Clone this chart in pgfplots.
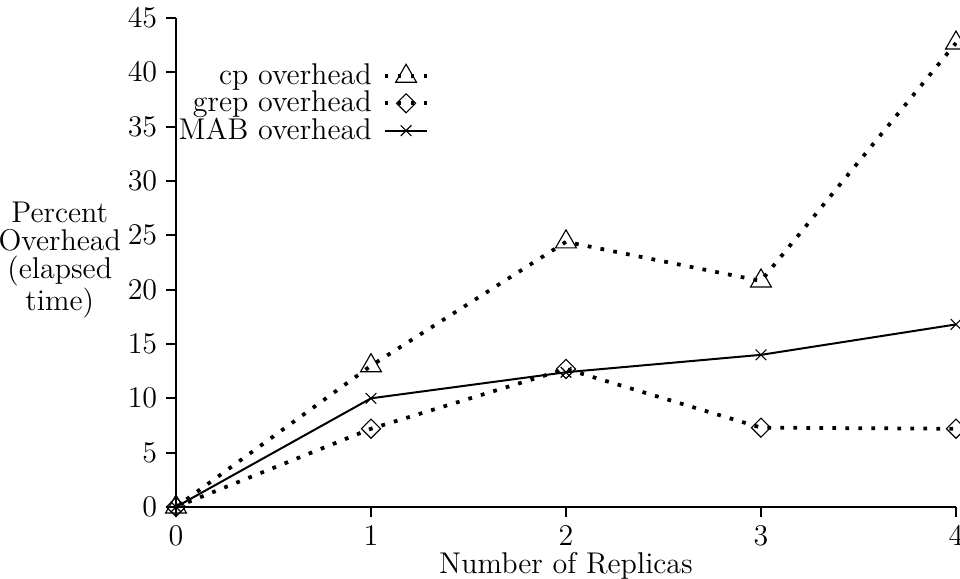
\documentclass[border=0pt]{standalone}
\usepackage{pgfplots}
\pgfplotsset{compat=1.18}
\begin{document}
\begin{tikzpicture}
\begin{axis}[
    width=312pt, height=195.6pt, scale only axis,
    xmin=0, xmax=4, ymin=0, ymax=45,
    axis x line=bottom, axis y line=left,
    axis line style={-, line width=0.8pt},
    xtick={0,1,2,3,4}, ytick={0,5,...,45},
    tick align=outside, major tick length=4pt,
    tick style={line width=0.8pt, black},
    font=\large,
    clip=false,
    xlabel={Number of Replicas},
    xlabel style={inner sep=1pt, yshift=1.5pt},
    ylabel={Percent\\Overhead\\(elapsed\\time)},
    every axis y label/.style={at={(axis description cs:-0.149,0.505)}, anchor=center, align=center,
        font=\fontsize{12}{11.2}\selectfont},
    legend plot pos=right,
    legend cell align=right,
    legend style={draw=none, fill=none, at={(axis description cs:0.335,0.925)}, anchor=north east,
        font=\large, row sep=-2pt, column sep=3pt, nodes={inner sep=1.5pt}},
    dotline/.style={black, line width=1.5pt, dash pattern=on 1.5pt off 3.7pt},
]

\addplot[dotline, mark=triangle, mark size=4.8pt, mark options={solid, line width=0.45pt}]
  coordinates {(0,0) (1,13.0) (2,24.4) (3,20.8) (4,42.7)};
\addplot[dotline, mark=square, mark size=2.7pt, mark options={solid, rotate=45, line width=0.45pt}]
  coordinates {(0,0) (1,7.2) (2,12.7) (3,7.3) (4,7.2)};
\addplot[black, line width=0.8pt, mark=x, mark size=3pt, mark options={solid, line width=0.45pt}]
  coordinates {(0,0) (1,10.0) (2,12.4) (3,14.0) (4,16.8)};

\legend{cp overhead, grep overhead, MAB overhead}
\end{axis}
\pgfresetboundingbox
\path (-70.4pt,-28.8pt) rectangle (313.6pt,202.8pt);
\end{tikzpicture}
\end{document}
